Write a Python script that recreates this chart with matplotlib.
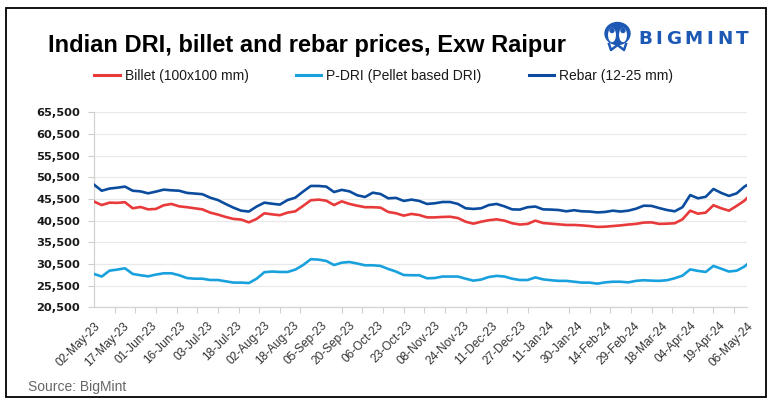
import matplotlib
matplotlib.use("Agg")
import matplotlib.pyplot as plt
import matplotlib.patches as mpatches
from matplotlib.lines import Line2D
import numpy as np

# ---------------- data ----------------
tick_labels = ["02-May-23", "17-May-23", "01-Jun-23", "16-Jun-23", "03-Jul-23", "18-Jul-23",
               "02-Aug-23", "18-Aug-23", "05-Sep-23", "20-Sep-23", "06-Oct-23", "23-Oct-23",
               "08-Nov-23", "24-Nov-23", "11-Dec-23", "27-Dec-23", "11-Jan-24", "30-Jan-24",
               "14-Feb-24", "29-Feb-24", "18-Mar-24", "04-Apr-24", "19-Apr-24", "06-May-24"]
n_points = 254          # number of daily observations on the category axis
label_every = 11        # a date label every 11 observations
tickmark_every = 8      # a tick mark every 8 observations
sample_step = 3         # values below are read every 3rd observation (+ the last one)

rebar = [48800, 47400, 47900, 48100, 48350, 47400, 47250, 46800, 47200, 47650,
         47500, 47400, 46900, 46750, 46600, 45800, 45250, 44350, 43500, 42800,
         42600, 43750, 44650, 44400, 44200, 45250, 45800, 47200, 48500, 48500,
         48350, 47100, 47600, 47250, 46350, 45950, 46950, 46650, 45650, 45750,
         45050, 45350, 45050, 44350, 44500, 44800, 44800, 44350, 43350, 43200,
         43350, 44100, 44350, 43800, 43100, 43050, 43600, 43750, 43100, 43050,
         42950, 42650, 42900, 42650, 42600, 42400, 42500, 42800, 42600, 42800,
         43250, 43950, 43900, 43400, 42950, 42650, 43600, 46400, 45650, 46000,
         47800, 46900, 46200, 46800, 48350, 48700]

billet = [44900, 44100, 44650, 44600, 44750, 43350, 43650, 43100, 43200, 44050,
          44350, 43800, 43600, 43350, 43100, 42350, 41900, 41350, 40900, 40750,
          40100, 40900, 42200, 41950, 41750, 42350, 42650, 43900, 45200, 45350,
          45100, 44100, 44950, 44350, 43950, 43600, 43600, 43500, 42500, 42200,
          41650, 42050, 41800, 41250, 41250, 41350, 41400, 41100, 40250, 39800,
          40250, 40600, 40800, 40500, 39900, 39600, 39750, 40500, 39950, 39800,
          39650, 39500, 39500, 39400, 39250, 39050, 39100, 39250, 39400, 39600,
          39750, 40050, 40100, 39750, 39800, 39900, 40800, 42800, 42100, 42350,
          44050, 43350, 42800, 43900, 45100, 45700]

pdri = [28200, 27600, 28950, 29200, 29500, 28200, 27900, 27650, 28050, 28350,
        28350, 27900, 27250, 27100, 27100, 26800, 26800, 26500, 26200, 26200,
        26100, 27100, 28600, 28750, 28650, 28650, 29200, 30250, 31600, 31500,
        31200, 30250, 30800, 30950, 30600, 30200, 30200, 30050, 29350, 28750,
        27950, 27900, 27900, 27200, 27250, 27600, 27600, 27600, 27100, 26650,
        26900, 27500, 27750, 27600, 27100, 26800, 26800, 27400, 26950, 26750,
        26600, 26600, 26400, 26200, 26200, 25950, 26250, 26400, 26400, 26250,
        26600, 26750, 26650, 26600, 26750, 27200, 27800, 29250, 28900, 28650,
        30050, 29400, 28750, 28950, 29900, 30400]

series_names = ["Billet (100x100 mm)", "P-DRI (Pellet based DRI)", "Rebar (12-25 mm)"]
y_min, y_max, y_step = 20500, 65500, 5000

# ---------------- style ----------------
C_BILLET = "#e83a3a"
C_PDRI = "#19a1de"
C_REBAR = "#0b4c9e"
C_LOGO = "#1c58b4"
W, H = 770, 404

plt.rcParams["font.family"] = ["Liberation Sans", "DejaVu Sans"]

fig = plt.figure(figsize=(W / 100, H / 100), dpi=100)
fig.patch.set_facecolor("white")

ax = fig.add_axes([94 / W, 1 - 307.3 / H, (747 - 94) / W, (307.3 - 112.3) / H])

x_sample = list(range(0, n_points - 1, sample_step)) + [n_points - 1]

ax.plot(x_sample, rebar, color=C_REBAR, lw=1.9, solid_joinstyle="round", zorder=3)
ax.plot(x_sample, billet, color=C_BILLET, lw=1.9, solid_joinstyle="round", zorder=3)
ax.plot(x_sample, pdri, color=C_PDRI, lw=1.9, solid_joinstyle="round", zorder=3)

ax.set_xlim(0, n_points - 1)
ax.set_ylim(y_min, y_max)
yt = np.arange(y_min, y_max + 1, y_step)
ax.set_yticks(yt)
ax.set_yticklabels([f"{v:,}" for v in yt], fontfamily="DejaVu Sans", fontweight="bold",
                   fontsize=8.2, color="#1a1a1a")
ax.yaxis.grid(True, color="#e9e9e9", lw=0.9)
ax.set_axisbelow(True)

label_pos = [i * label_every for i in range(len(tick_labels))]
ax.set_xticks(label_pos)
ax.set_xticklabels(tick_labels, rotation=45, ha="right", rotation_mode="anchor",
                   fontsize=8.6, color="#333333")
ax.set_xticks(list(range(0, n_points, tickmark_every)), minor=True)
ax.tick_params(axis="x", which="major", length=0, pad=9)
ax.tick_params(axis="x", which="minor", length=4, color="#cfcfcf", width=0.8)
ax.tick_params(axis="y", length=4, color="#cfcfcf", width=0.8, pad=6)

for s in ["top", "right"]:
    ax.spines[s].set_visible(False)
for s in ["left", "bottom"]:
    ax.spines[s].set_color("#d4d4d4")
    ax.spines[s].set_linewidth(0.9)

# ---------------- title, legend, source ----------------
fig.text(48 / W, 1 - 51.7 / H, "Indian DRI, billet and rebar prices, Exw Raipur",
         fontsize=17, fontweight="bold", color="black", va="baseline", ha="left")

handles = [Line2D([], [], color=C_BILLET, lw=2.2),
           Line2D([], [], color=C_PDRI, lw=2.2),
           Line2D([], [], color=C_REBAR, lw=2.2)]
fig.legend(handles, series_names, loc="center left", bbox_to_anchor=(94 / W, 1 - 76 / H),
           ncol=3, frameon=False, fontsize=10, handlelength=1.85, handletextpad=0.35,
           columnspacing=3.4, borderpad=0, borderaxespad=0, labelcolor="#1a1a1a")

fig.text(28 / W, 1 - 387 / H, "Source: BigMint", fontsize=10, color="#666666",
         va="center", ha="left")

# ---------------- logo ----------------
def fx(px):
    return px / W


def fy(py):
    return 1 - py / H


fig.patches.append(mpatches.Ellipse((fx(617.5), fy(33.5)), 25 / W, 22 / H,
                                    transform=fig.transFigure, color=C_LOGO, zorder=5))
for cx in (612.0, 623.0):
    fig.patches.append(mpatches.Ellipse((fx(cx), fy(35)), 6.5 / W, 13 / H,
                                        transform=fig.transFigure, color="white", zorder=6))
    fig.patches.append(mpatches.Ellipse((fx(cx), fy(30.5)), 4.0 / W, 4.0 / H,
                                        transform=fig.transFigure, color=C_LOGO, zorder=7))
fig.lines.append(Line2D([fx(609), fx(611), fx(617.5), fx(624), fx(626)],
                        [fy(44), fy(50), fy(45), fy(50), fy(44)],
                        transform=fig.transFigure, color=C_LOGO, lw=1.8, zorder=6))

fig.canvas.draw()
renderer = fig.canvas.get_renderer()
x_cursor = 638.0
for ch in "BIGMINT":
    t = fig.text(fx(x_cursor), fy(44.5), ch, fontsize=13.2, fontweight="heavy",
                 fontfamily="DejaVu Sans", color=C_LOGO, va="baseline", ha="left")
    bb = t.get_window_extent(renderer=renderer)
    x_cursor += bb.width + 3.6

# ---------------- frame ----------------
fig.patches.append(mpatches.Rectangle((fx(6), fy(397)), (766 - 6) / W, (397 - 8) / H,
                                      transform=fig.transFigure, fill=False,
                                      edgecolor="black", lw=1.3, zorder=10))

fig.savefig("out.png", dpi=100, facecolor="white")
